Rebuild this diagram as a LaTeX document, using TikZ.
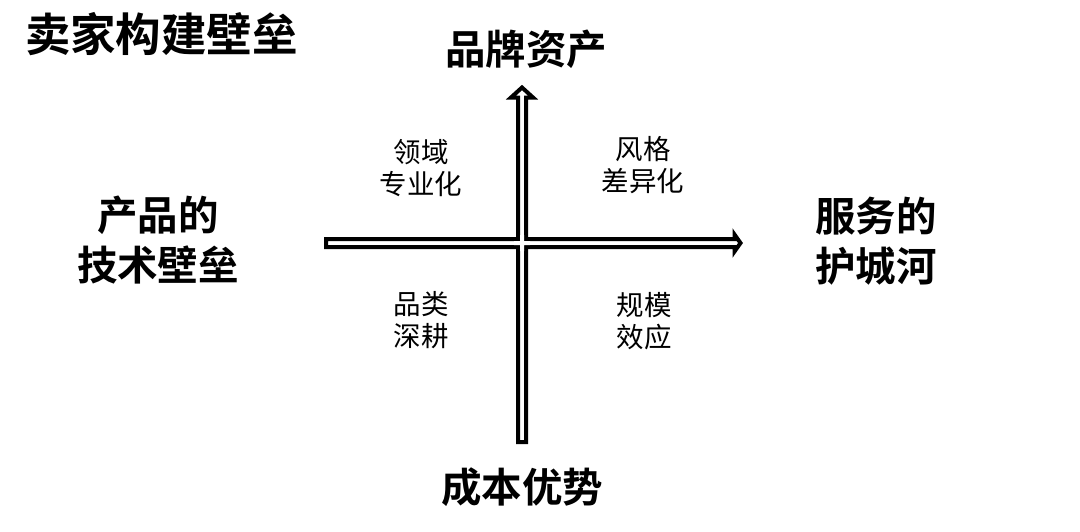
\documentclass[tikz,border=0pt]{standalone}
\usepackage{fontspec}
\setmainfont{Noto Sans CJK SC}
\newfontfamily\cjkbold{Noto Sans CJK SC Bold}

\begin{document}
\begin{tikzpicture}[x=1pt,y=-1pt,
  axisarrow/.style={draw=black,line width=4pt,fill=white,line join=miter},
  bigtext/.style={font=\cjkbold\fontsize{40.5}{50}\selectfont,align=center,inner sep=0pt},
  smalltext/.style={font=\fontsize{27.5}{32.5}\selectfont,align=center,inner sep=0pt}]
\useasboundingbox (0,0) rectangle (1080,531);
% axes
\draw[axisarrow] (518,442)--(518,97.5)--(511,97.5)--(522,87.5)--(533,97.5)--(526,97.5)--(526,442)--cycle;
\draw[axisarrow] (326,239)--(734.5,239)--(734.5,234.5)--(740.5,243)--(734.5,251.5)--(734.5,247)--(326,247)--cycle;
\fill[white] (514,241) rectangle (530,245) (520,235) rectangle (524,251);
% labels
\node[font=\cjkbold\fontsize{45.5}{50}\selectfont,inner sep=0pt] (title) at (161.5,34) {卖家构建壁垒};
\node[bigtext] (top) at (526,49) {品牌资产};
\node[bigtext] (bottom) at (522,487) {成本优势};
\node[bigtext] (left) at (158,240) {产品的\\技术壁垒};
\node[bigtext] (right) at (876,241) {服务的\\护城河};
\foreach \x/\y/\lab/\nm in {421/168/领域\\专业化/tl,643/165/风格\\差异化/tr,421/320/品类\\深耕/bl,644/321/规模\\效应/br}
  {\node[smalltext] (\nm) at (\x,\y) {\lab};}
\end{tikzpicture}
\end{document}
